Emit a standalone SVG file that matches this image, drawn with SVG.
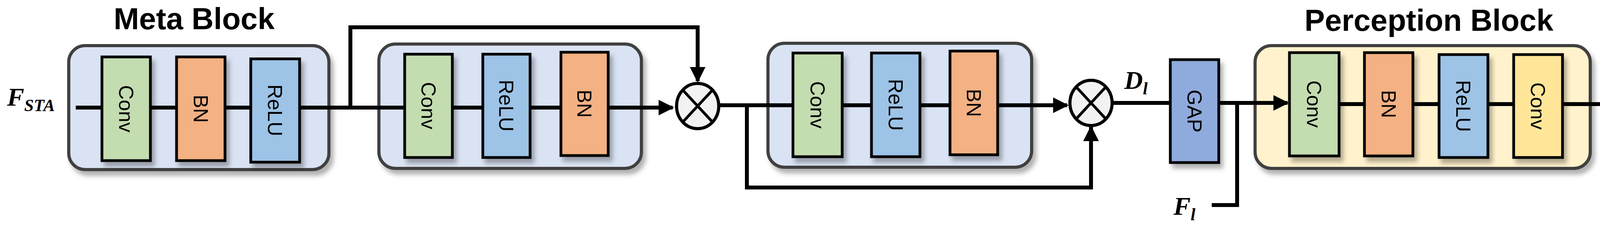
<svg xmlns="http://www.w3.org/2000/svg" width="4277" height="590" viewBox="0 0 4277 590">
<defs>
<filter id="sh" x="-20%" y="-20%" width="150%" height="150%"><feDropShadow dx="8" dy="12" stdDeviation="6" flood-color="#000" flood-opacity="0.3"/></filter>
<marker id="ah" viewBox="0 0 10 10" refX="9" refY="5" markerWidth="4" markerHeight="4.5" orient="auto" markerUnits="strokeWidth"><path d="M0,0 L10,5 L0,10 z" fill="#000"/></marker>
</defs>
<style>
.blk{fill:#DAE3F3;stroke:#404040;stroke-width:8}
.pblk{fill:#FFF2CC;stroke:#404040;stroke-width:8}
.l{stroke:#000;stroke-width:7}
.g{fill:#C3DCB0}.o{fill:#F4B183}.b{fill:#9DC3E6}.y{fill:#FFE699}.gap{fill:#8FAADC}
.t{font-family:"Liberation Sans",Arial,sans-serif;font-size:52px;text-anchor:middle;dominant-baseline:central}
.ti{font-family:"Liberation Sans",Arial,sans-serif;font-size:78px;font-weight:bold;text-anchor:middle}
.m{font-family:"Liberation Serif","Times New Roman",serif;font-style:italic;font-weight:bold;font-size:66px}
.ms{font-size:44px}
.c{stroke:#000;stroke-width:10;fill:none}
.cir{fill:#F2F2F2;stroke:#000;stroke-width:8}
</style>
<text class="ti" x="497" y="75">Meta Block</text>
<text class="ti" x="3658" y="79">Perception Block</text>
<g id="block1"><rect class="blk" x="176" y="117" width="666" height="318" rx="42" filter="url(#sh)"/></g>
<g id="block2"><rect class="blk" x="970" y="113" width="672" height="319" rx="42" filter="url(#sh)"/></g>
<g id="block3"><rect class="blk" x="1966" y="111" width="675" height="318" rx="42" filter="url(#sh)"/></g>
<g id="block4"><rect class="pblk" x="3213" y="117" width="858" height="315" rx="42" filter="url(#sh)"/></g>
<g id="connectors">
<path class="c" d="M194,276 H1722" marker-end="url(#ah)"/>
<path class="c" d="M897,276 V70 H1786 V208" marker-end="url(#ah)"/>
<path class="c" d="M1843,270 H2732" marker-end="url(#ah)"/>
<path class="c" d="M1912,270 V481 H2793 V326" marker-end="url(#ah)"/>
<path class="c" d="M2849,264 H2996"/>
<path class="c" d="M3120,264 H3296" marker-end="url(#ah)"/>
<path class="c" d="M3102,526 H3167 V264"/>
<path class="c" d="M3428,267 H4140" marker-end="url(#ah)"/>
</g>
<g id="m1-conv"><rect class="g l" x="261" y="146" width="124" height="266" filter="url(#sh)"/><text class="t" transform="translate(323,279) rotate(90)">Conv</text></g>
<g id="m1-bn"><rect class="o l" x="452" y="146" width="124" height="266" filter="url(#sh)"/><text class="t" transform="translate(514,279) rotate(90)">BN</text></g>
<g id="m1-relu"><rect class="b l" x="642" y="151" width="125" height="265" filter="url(#sh)"/><text class="t" transform="translate(704,283) rotate(90)">ReLU</text></g>
<g id="m2-conv"><rect class="g l" x="1036" y="139" width="122" height="265" filter="url(#sh)"/><text class="t" transform="translate(1097,271) rotate(90)">Conv</text></g>
<g id="m2-relu"><rect class="b l" x="1236" y="139" width="121" height="265" filter="url(#sh)"/><text class="t" transform="translate(1296,271) rotate(90)">ReLU</text></g>
<g id="m2-bn"><rect class="o l" x="1436" y="134" width="121" height="265" filter="url(#sh)"/><text class="t" transform="translate(1496,266) rotate(90)">BN</text></g>
<g id="m3-conv"><rect class="g l" x="2030" y="136" width="126" height="266" filter="url(#sh)"/><text class="t" transform="translate(2093,269) rotate(90)">Conv</text></g>
<g id="m3-relu"><rect class="b l" x="2231" y="136" width="124" height="266" filter="url(#sh)"/><text class="t" transform="translate(2293,269) rotate(90)">ReLU</text></g>
<g id="m3-bn"><rect class="o l" x="2432" y="131" width="122" height="266" filter="url(#sh)"/><text class="t" transform="translate(2493,264) rotate(90)">BN</text></g>
<g id="gap"><rect class="gap l" x="2996" y="153" width="124" height="264" filter="url(#sh)"/><text class="t" transform="translate(3058,285) rotate(90)">GAP</text></g>
<g id="p-conv1"><rect class="g l" x="3301" y="135" width="127" height="265" filter="url(#sh)"/><text class="t" transform="translate(3364,267) rotate(90)">Conv</text></g>
<g id="p-bn"><rect class="o l" x="3493" y="135" width="124" height="265" filter="url(#sh)"/><text class="t" transform="translate(3555,267) rotate(90)">BN</text></g>
<g id="p-relu"><rect class="b l" x="3684" y="140" width="125" height="264" filter="url(#sh)"/><text class="t" transform="translate(3746,272) rotate(90)">ReLU</text></g>
<g id="p-conv2"><rect class="y l" x="3875" y="140" width="125" height="264" filter="url(#sh)"/><text class="t" transform="translate(3937,272) rotate(90)">Conv</text></g>
<g id="mul1"><ellipse class="cir" cx="1786" cy="272" rx="54" ry="58"/><path class="l" d="M1748,231 L1824,313 M1824,231 L1748,313"/></g>
<g id="mul2"><ellipse class="cir" cx="2793" cy="264" rx="54" ry="58"/><path class="l" d="M2755,223 L2831,305 M2831,223 L2755,305"/></g>
<text class="m" x="18" y="271">F<tspan class="ms" dy="14">STA</tspan></text>
<text class="m" x="2878" y="228">D<tspan class="ms" dy="14">l</tspan></text>
<text class="m" x="3004" y="551">F<tspan class="ms" dy="14">l</tspan></text>
<text class="m" x="4144" y="292">D<tspan class="ms" dy="14">l</tspan><tspan class="ms" dx="-12" dy="-60">`</tspan></text>
</svg>
